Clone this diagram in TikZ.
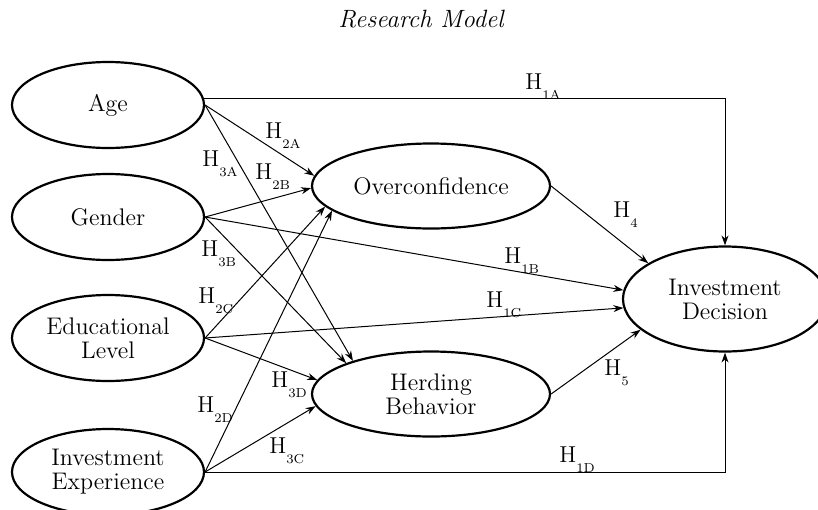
\documentclass[tikz,border=0pt]{standalone}
\usepackage{xcolor}
\usetikzlibrary{arrows.meta, positioning, calc, shapes.geometric}
\newcommand{\hyp}[1]{H\raisebox{-5pt}{\fontsize{6.5}{6.5}\selectfont #1}}

\begin{document}
\begin{tikzpicture}[x=0.5pt, y=-0.5pt,
    every node/.style={font=\fontsize{12}{12}\selectfont},
    factor/.style={ellipse, draw, line width=1.1pt, minimum width=96pt, minimum height=43pt, inner sep=0pt, align=center},
    bias/.style={factor, minimum width=119pt, minimum height=42.5pt},
    outcome/.style={factor, minimum width=102pt, minimum height=52.5pt},
    hlabel/.style={anchor=base west, inner sep=0pt, font=\fontsize{11.5}{11.5}\selectfont},
    link/.style={-{Stealth[length=5pt, width=3.5pt]}, line width=0.5pt}]
    \useasboundingbox (0,0) rectangle (818,509);
    \node[anchor=base, font=\itshape\fontsize{12.5}{12.5}\selectfont] (title) at (421,27) {Research Model};

    \node[factor] (age) at (108,105) {Age};
    \node[factor] (gender) at (108,217) {Gender};
    \node[factor] (edu) at (108,338) {Educational\\Level};
    \node[factor] (exp) at (108,472) {Investment\\Experience};
    \node[bias] (over) at (431,186) {Overconfidence};
    \node[bias] (herd) at (431,394) {Herding\\Behavior};
    \node[outcome] (dec) at (725,299) {Investment\\Decision};

    \draw[link] (age.4) -| (dec.north);
    \draw[link] (exp.east) -| (dec.south);
    \draw[link] (gender.east) -- (dec.175);
    \draw[link] (edu.east) -- (dec.185);
    \draw[link] (age.east) -- (over.175);
    \draw[link] (gender.east) -- (over.181);
    \draw[link] (edu.east) -- (over.191);
    \draw[link] (exp.east) -- (over.194);
    \draw[link] (age.east) -- (herd.157);
    \draw[link] (gender.east) -- (herd.160);
    \draw[link] (edu.east) -- (herd.173);
    \draw[link] (exp.east) -- (herd.186);
    \draw[link] (over.east) -- (dec.155);
    \draw[link] (herd.east) -- (dec.200);

    \node[hlabel] (h1a) at (525,89) {\hyp{1A}};
    \node[hlabel] (h1b) at (504,263) {\hyp{1B}};
    \node[hlabel] (h1c) at (486,307) {\hyp{1C}};
    \node[hlabel] (h1d) at (559,462) {\hyp{1D}};
    \node[hlabel] (h2a) at (265,138) {\hyp{2A}};
    \node[hlabel] (h2b) at (255,179) {\hyp{2B}};
    \node[hlabel] (h2c) at (198,303) {\hyp{2C}};
    \node[hlabel] (h2d) at (197,412) {\hyp{2D}};
    \node[hlabel] (h3a) at (202,166) {\hyp{3A}};
    \node[hlabel] (h3b) at (201,256) {\hyp{3B}};
    \node[hlabel] (h3c) at (269,453) {\hyp{3C}};
    \node[hlabel] (h3d) at (271,387) {\hyp{3D}};
    \node[hlabel] (h4) at (613,217) {\hyp{4}};
    \node[hlabel] (h5) at (604,375) {\hyp{5}};
\end{tikzpicture}
\end{document}
